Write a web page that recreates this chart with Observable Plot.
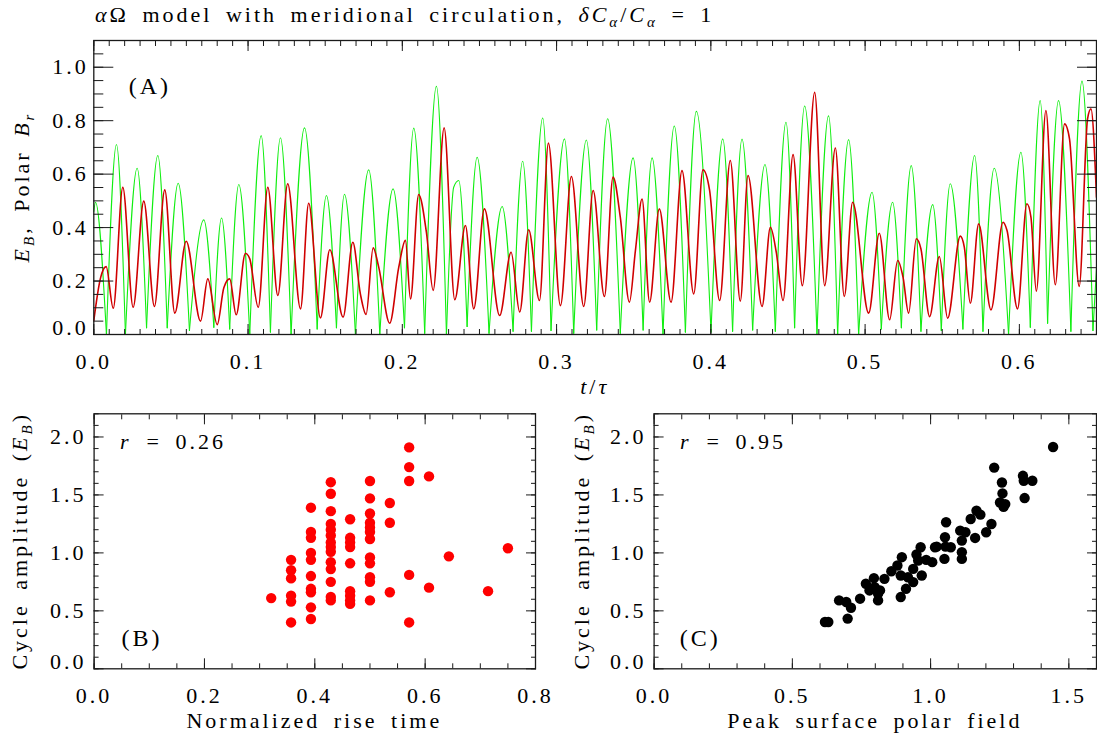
<!DOCTYPE html>
<html><head><meta charset="utf-8">
<script src="https://cdn.jsdelivr.net/npm/d3@7"></script>
<script src="https://cdn.jsdelivr.net/npm/@observablehq/plot@0.6"></script>
<style>
html,body{margin:0;padding:0;background:#fff;}
#wrap{position:relative;width:1097px;height:737px;overflow:hidden;background:#fff;}
#wrap svg{position:absolute;}
</style></head><body><div id="wrap"></div>
<script>
// ---------- Panel A: time series (extrema) ----------
const greenT = [0,0.0011,0.0082,0.0147,0.0205,0.0281,0.0342,0.0415,0.0476,0.0547,0.0620,0.0713,0.0778,0.0828,0.0881,0.0940,0.1011,0.1085,0.1145,0.1210,0.1279,0.1366,0.1448,0.1508,0.1573,0.1625,
0.1696,0.1782,0.1854,0.1940,0.2014,0.2074,0.2145,0.2221,0.2286,0.2333,0.2366,0.2420,0.2485,0.2562,0.2647,0.2718,0.2780,0.2837,0.2910,0.2964,0.3051,0.3111,0.3193,0.3260,
0.3331,0.3413,0.3496,0.3561,0.3619,0.3690,0.3763,0.3835,0.3906,0.4001,0.4077,0.4141,0.4202,0.4271,0.4351,0.4418,0.4487,0.4543,0.4608,0.4688,0.4763,0.4822,
0.4893,0.4958,0.5045,0.5105,0.5178,0.5235,0.5299,0.5362,0.5438,0.5494,0.5552,0.5634,0.5710,0.5764,0.5837,0.5930,0.6010,0.6071,0.6135,0.6183,0.6254,0.6334,0.6406,0.6477,0.6500];
const greenV = [0.46,0.495,0.0,0.711,0.0,0.622,0.025,0.670,0.025,0.566,0.015,0.429,0.027,0.436,0.021,0.561,0.0,0.744,0.009,0.736,0.0,0.773,0.021,0.520,0.025,0.525,
0.0,0.616,0.0,0.545,0.025,0.772,0.005,0.929,0.0,0.551,0.576,0.03,0.663,0.005,0.479,0.012,0.648,0.012,0.810,0.015,0.732,0.005,0.728,0.017,
0.807,0.005,0.661,0.017,0.661,0.0,0.780,0.009,0.835,0.009,0.732,0.012,0.731,0.017,0.636,0.012,0.794,0.025,0.855,0.0,0.818,0.0,
0.729,0.0,0.532,0.021,0.495,0.025,0.632,0.012,0.486,0.015,0.564,0.021,0.670,0.012,0.622,0.0,0.682,0.027,0.875,0.042,0.875,0.012,0.948,0.015,0.25];

const redT = [0,0.0043,0.0080,0.0126,0.0188,0.0255,0.0324,0.0393,0.0460,0.0525,0.0599,0.0692,0.0739,0.0800,0.0843,0.0881,0.0923,0.0983,0.1011,0.1066,0.1128,0.1193,0.1257,0.1340,0.1393,0.1469,0.1530,
0.1616,0.1679,0.1728,0.1765,0.1811,0.1847,0.1918,0.1977,0.2020,0.2053,0.2106,0.2156,0.2200,0.2271,0.2340,0.2409,0.2463,0.2532,0.2631,0.2705,0.2761,0.2819,0.2889,0.2947,0.3025,0.3096,0.3176,0.3237,
0.3310,0.3366,0.3413,0.3472,0.3511,0.3554,0.3603,0.3666,0.3742,0.3813,0.3889,0.3949,0.3992,0.4057,0.4126,0.4191,0.4241,0.4332,0.4386,0.4424,0.4468,0.4533,0.4593,0.4673,0.4738,0.4807,0.4865,
0.4919,0.5023,0.5092,0.5159,0.5211,0.5246,0.5282,0.5332,0.5362,0.5418,0.5481,0.5535,0.5617,0.5643,0.5682,0.5736,0.5816,0.5894,0.5920,0.5988,0.6049,0.6075,0.6110,0.6172,0.6233,0.6293,0.6325,0.6388,0.6442,0.6464,0.6500];
const redV = [0.052,0.21,0.254,0.098,0.551,0.102,0.499,0.105,0.541,0.080,0.349,0.050,0.208,0.037,0.175,0.208,0.074,0.304,0.283,0.102,0.551,0.146,0.564,0.096,0.491,0.062,0.317,
0.065,0.345,0.152,0.075,0.324,0.252,0.042,0.252,0.352,0.133,0.524,0.383,0.165,0.773,0.130,0.408,0.096,0.470,0.071,0.308,0.084,0.392,0.127,0.716,0.108,0.591,0.105,0.539,
0.142,0.589,0.439,0.121,0.314,0.507,0.121,0.470,0.121,0.613,0.152,0.616,0.539,0.127,0.651,0.125,0.595,0.105,0.401,0.308,0.127,0.673,0.183,0.906,0.183,0.698,0.142,
0.495,0.080,0.379,0.055,0.277,0.214,0.080,0.358,0.320,0.067,0.292,0.061,0.368,0.327,0.117,0.414,0.092,0.420,0.389,0.096,0.489,0.439,0.162,0.838,0.186,0.788,0.732,0.180,0.807,0.844,0.514];

const topXTicks = [0, 0.1, 0.2, 0.3, 0.4, 0.5, 0.6];
const topYTicks = [0, 0.2, 0.4, 0.6, 0.8, 1.0];

// ---------- Panel B: cycle amplitude vs normalized rise time ----------
const riseTime = [0.321,
0.357,0.357,0.357,0.357,0.357,0.357,
0.393,0.393,0.393,0.393,0.393,0.393,0.393,0.393,0.393,0.393,
0.429,0.429,0.429,0.429,0.429,0.429,0.429,0.429,0.429,0.429,0.429,0.429,0.429,0.429,
0.464,0.464,0.464,0.464,0.464,0.464,0.464,0.464,0.464,
0.5,0.5,0.5,0.5,0.5,0.5,0.5,0.5,0.5,0.5,0.5,0.5,
0.536,0.536,0.536,
0.571,0.571,0.571,0.571,0.571,
0.607,0.607,
0.643,0.714,0.75];
const amplitudeB = [0.61,
0.94,0.85,0.78,0.63,0.58,0.40,
1.39,1.18,1.13,1.00,0.94,0.80,0.69,0.66,0.53,0.43,
1.61,1.51,1.36,1.25,1.20,1.15,1.09,1.05,1.01,0.92,0.86,0.75,0.62,0.59,
1.29,1.13,1.09,1.05,0.91,0.67,0.63,0.59,0.56,
1.62,1.47,1.34,1.26,1.22,1.18,1.12,0.96,0.91,0.79,0.75,0.59,
1.43,1.26,0.66,
1.91,1.74,1.62,0.81,0.40,
1.66,0.70,
0.97,0.67,1.04];
const bXTicks = [0, 0.2, 0.4, 0.6, 0.8];

// ---------- Panel C: cycle amplitude vs peak surface polar field ----------
const polarField = [0.618,0.630,0.669,0.695,0.712,0.700,0.745,0.766,0.779,0.795,0.798,0.810,0.810,0.817,0.833,0.858,0.880,0.896,0.892,0.892,
0.911,0.918,0.937,0.937,0.949,0.955,0.964,0.968,0.984,1.006,1.016,1.022,1.050,1.052,1.056,1.054,1.073,1.107,1.113,1.113,
1.113,1.126,1.145,1.161,1.166,1.180,1.201,1.220,1.230,1.258,1.260,1.251,1.264,1.270,1.334,1.337,1.340,1.368,1.443];
const amplitudeC = [0.404,0.404,0.590,0.576,0.527,0.433,0.605,0.734,0.676,0.782,0.705,0.648,0.590,0.676,0.776,0.842,0.891,0.963,0.619,0.805,
0.690,0.790,0.862,0.748,0.986,0.934,1.049,0.805,0.940,0.920,1.049,1.054,0.948,1.135,1.264,1.054,1.049,1.192,1.006,0.948,
1.106,1.178,1.292,1.129,1.364,1.330,1.178,1.249,1.736,1.607,1.513,1.435,1.398,1.421,1.665,1.622,1.473,1.622,1.914];
const cXTicks = [0, 0.5, 1.0, 1.5];
const ampYTicks = [0, 0.5, 1.0, 1.5, 2.0];

// ---------- helpers ----------
const FONT = "'Liberation Serif', 'Times New Roman', serif";
const INK = "#1a1a1a";
const fmt1 = d3.format(".1f");
const svgStyle = {fontFamily: FONT, fontSize: "22px", letterSpacing: "3px", wordSpacing: "5px", background: "transparent", overflow: "visible", color: "#000"};

function frameTicks(o) {
  const s = {stroke: INK, strokeWidth: 1, tickFormat: () => "", label: null};
  const m = [];
  for (const anchor of ["bottom", "top"]) {
    m.push(Plot.axisX(o.xMinor, {...s, anchor, tickSize: -o.xMinLen}));
    m.push(Plot.axisX(o.xMajor, {...s, anchor, tickSize: -o.xMajLen}));
  }
  for (const anchor of ["left", "right"]) {
    m.push(Plot.axisY(o.yMinor, {...s, anchor, tickSize: -o.yMinLen}));
    m.push(Plot.axisY(o.yMajor, {...s, anchor, tickSize: -o.yMajLen}));
  }
  return m;
}
function tickLabels(xTicks, yTicks, xPad, yPad) {
  return [
    Plot.axisX(xTicks, {anchor: "bottom", tickSize: 0, tickPadding: xPad, tickFormat: fmt1, label: null}),
    Plot.axisY(yTicks.filter(d => d !== 0), {anchor: "left", tickSize: 0, tickPadding: yPad, tickFormat: fmt1, label: null}),
    Plot.axisY([0], {anchor: "left", tickSize: 0, tickPadding: yPad, tickFormat: fmt1, label: null, dy: -7})
  ];
}
const range = (a, b, s) => d3.range(Math.round(a / s), Math.round(b / s) + 1).map(i => +(i * s).toFixed(4));

// ---------- build tables ----------
const green = greenT.map((t, i) => ({t, v: greenV[i]}));
const greenArches = [];
let arch = 0;
green.forEach((p, i) => {
  greenArches.push({...p, arch});
  const trough = i > 0 && i < green.length - 1 && p.v < green[i - 1].v && p.v < green[i + 1].v;
  if (trough) { arch++; greenArches.push({...p, arch}); }
});
const red = redT.map((t, i) => ({t, v: redV[i]}));
const ptsB = riseTime.map((x, i) => ({x, y: amplitudeB[i]}));
const ptsC = polarField.map((x, i) => ({x, y: amplitudeC[i]}));

const wrap = document.getElementById("wrap");

// ---------- Panel A ----------
const pA = Plot.plot({
  width: 1097, height: 400,
  marginLeft: 93.3, marginRight: 1, marginTop: 40, marginBottom: 66,
  style: svgStyle,
  x: {domain: [0, 0.65], label: null},
  y: {domain: [0, 1.1], label: null},
  marks: [
    Plot.line(greenArches, {x: "t", y: "v", z: "arch", stroke: "#10ee10", strokeWidth: 1.1, curve: "monotone-x", clip: true}),
    Plot.line(red, {x: "t", y: "v", stroke: "#d00000", strokeWidth: 1.6, curve: "monotone-x", clip: true}),
    ...frameTicks({xMajor: topXTicks, xMinor: range(0, 0.65, 0.01), yMajor: topYTicks, yMinor: range(0, 1.1, 0.05),
                   xMajLen: 10, xMinLen: 5, yMajLen: 20, yMinLen: 10}),
    ...tickLabels(topXTicks, topYTicks, 19, 5),
    Plot.frame({stroke: INK, strokeWidth: 1.3}),
    Plot.text(["(A)"], {frameAnchor: "top-left", dx: 35, dy: 53, textAnchor: "start", lineAnchor: "bottom", fontSize: 24})
  ]
});
pA.style.left = "0px"; pA.style.top = "0px";
wrap.appendChild(pA);

function scatterPanel(pts, color, xDomain, xTicks, xMinorStep, marginLeft, width, rText) {
  return Plot.plot({
    width, height: 337,
    marginLeft, marginRight: width - (marginLeft + (width === 560 ? 441.4 : 442.4)), marginTop: 13.3, marginBottom: 68.7,
    style: svgStyle,
    x: {domain: xDomain, label: null},
    y: {domain: [0, 2.2], label: null},
    marks: [
      Plot.dot(pts, {x: "x", y: "y", r: 5.2, fill: color, stroke: null}),
      ...frameTicks({xMajor: xTicks, xMinor: range(0, xDomain[1], xMinorStep), yMajor: ampYTicks, yMinor: range(0, 2.2, 0.1),
                     xMajLen: 10, xMinLen: 5, yMajLen: 10, yMinLen: 5}),
      ...tickLabels(xTicks, ampYTicks, 18.5, 7.5),
      Plot.frame({stroke: INK, strokeWidth: 1.3}),
      Plot.text(["r"], {frameAnchor: "top-left", dx: 26, dy: 35, textAnchor: "start", lineAnchor: "bottom", fontStyle: "italic"}),
      Plot.text(["="], {frameAnchor: "top-left", dx: 52.4, dy: 35, textAnchor: "start", lineAnchor: "bottom"}),
      Plot.text([rText], {frameAnchor: "top-left", dx: 81.4, dy: 35, textAnchor: "start", lineAnchor: "bottom"})
    ]
  });
}
const pB = scatterPanel(ptsB, "#ff0000", [0, 0.8], bXTicks, 0.05, 93.6, 560, "0.26");
pB.style.left = "0px"; pB.style.top = "400px";
wrap.appendChild(pB);
const pC = scatterPanel(ptsC, "#000000", [0, 1.6], cXTicks, 0.1, 103.6, 547, "0.95");
pC.style.left = "550px"; pC.style.top = "400px";
wrap.appendChild(pC);

// panel letters B, C
for (const [svg, lbl] of [[pB, "(B)"], [pC, "(C)"]]) {
  const left = svg === pB ? 93.6 : 653.6;
  ov_letters(lbl, left);
}
function ov_letters() {}

// ---------- overlay text (titles with sub/italics) ----------
const ov = d3.select(wrap).append("svg")
  .attr("width", 1097).attr("height", 737)
  .style("left", "0px").style("top", "0px")
  .style("font-family", FONT).style("font-size", "22px")
  .style("letter-spacing", "3px").style("word-spacing", "5px")
  .style("white-space", "pre").style("pointer-events", "none");

function rich(x, y, parts, {anchor = "start", rotate = 0, size = 22} = {}) {
  const t = ov.append("text")
    .attr("transform", `translate(${x},${y})` + (rotate ? ` rotate(${rotate})` : ""))
    .attr("text-anchor", anchor).attr("font-size", size).attr("fill", "#000");
  let shift = 0;
  for (const [s, o = {}] of parts) {
    const target = o.sub ? 5 : 0;
    const ts = t.append("tspan").text(s).attr("dy", target - shift);
    shift = target;
    if (o.i) ts.attr("font-style", "italic");
    if (o.sub) ts.attr("font-size", 15);
  }
  return t;
}
rich(95, 22, [["α", {i: 1}], ["Ω"], [" model with meridional circulation, "], ["δC", {i: 1}], ["α", {i: 1, sub: 1}], ["/"], ["C", {i: 1}], ["α", {i: 1, sub: 1}], [" = 1"]]);
rich(29, 187, [["E", {i: 1}], ["B", {i: 1, sub: 1}], [", Polar "], ["B", {i: 1}], ["r", {i: 1, sub: 1}]], {anchor: "middle", rotate: -90});
rich(594.7, 394, [["t", {i: 1}], ["/"], ["τ", {i: 1}]], {anchor: "middle"});
rich(27, 540.8, [["Cycle amplitude ("], ["E", {i: 1}], ["B", {i: 1, sub: 1}], [")"]], {anchor: "middle", rotate: -90});
rich(589, 540.8, [["Cycle amplitude ("], ["E", {i: 1}], ["B", {i: 1, sub: 1}], [")"]], {anchor: "middle", rotate: -90});
rich(314.3, 728, [["Normalized rise time"]], {anchor: "middle"});
rich(874.8, 728, [["Peak surface polar field"]], {anchor: "middle"});
rich(121.4, 646, [["(B)"]], {size: 24});
rich(679.8, 646, [["(C)"]], {size: 24});
</script></body></html>
